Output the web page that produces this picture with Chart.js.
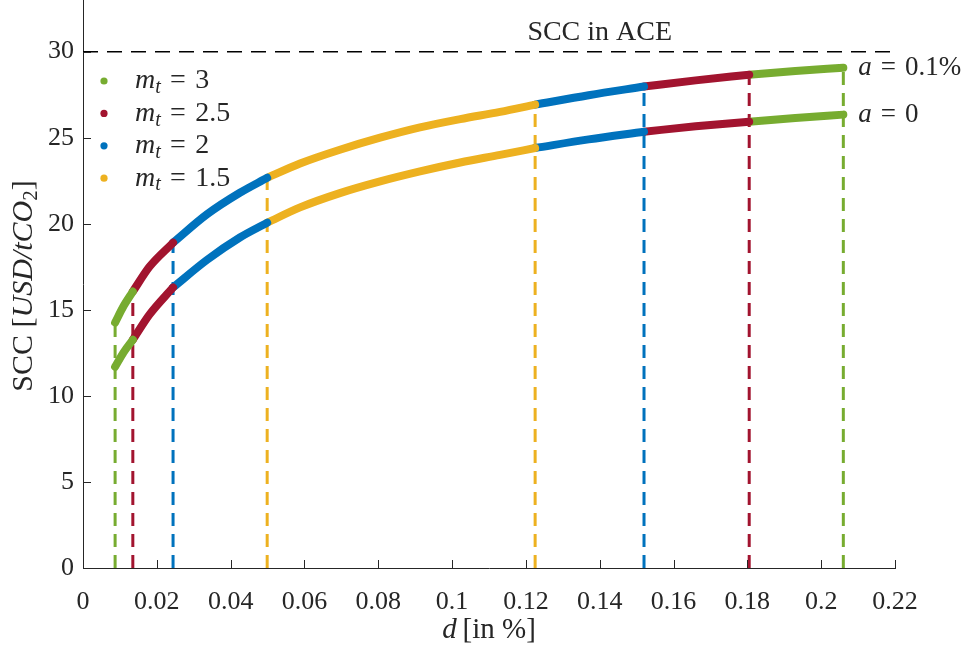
<!DOCTYPE html>
<html lang="en">
<head>
  <meta charset="utf-8">
  <title>SCC vs d</title>
  <script src="https://cdn.jsdelivr.net/npm/chart.js"></script>
  <style>
    html, body { margin: 0; padding: 0; background: #fff; }
    #wrap { width: 966px; height: 648px; }
  </style>
</head>
<body>
<div id="wrap"><canvas id="sccChart" width="966" height="648"></canvas></div>

<script>
  // d [in %], shared grid for both curves (breakpoints included)
  const dValues = [0.0087, 0.011, 0.0135, 0.018, 0.0244, 0.0336, 0.0425, 0.0499, 0.0588, 0.0696,
                   0.0805, 0.0913, 0.1022, 0.113, 0.1225, 0.137, 0.152, 0.166, 0.1805, 0.193, 0.206];
  // SCC for a = 0.1%
  const sccHigh = [14.26, 15.22, 16.06, 17.5, 18.9, 20.55, 21.8, 22.67, 23.5, 24.3,
                   25.0, 25.6, 26.08, 26.5, 26.92, 27.47, 27.97, 28.33, 28.66, 28.88, 29.07];
  // SCC for a = 0
  const sccLow = [11.69, 12.53, 13.26, 14.72, 16.3, 17.9, 19.2, 20.06, 20.95, 21.78,
                  22.46, 23.04, 23.56, 24.0, 24.4, 24.9, 25.35, 25.66, 25.93, 26.15, 26.34];

  // where m_t switches, and which m_t each piece belongs to
  const breakD = [0.0087, 0.0135, 0.0244, 0.0499, 0.1225, 0.152, 0.1805, 0.206];
  const segM = [3, 2.5, 2, 1.5, 2, 2.5, 3];
  const breakM = [3, 2.5, 2, 1.5, 1.5, 2, 2.5, 3];

  const mLevels = [3, 2.5, 2, 1.5];
  const mColors = ['#77AC30', '#A2142F', '#0072BD', '#EDB120'];
  const curveLabels = ['a = 0.1%', 'a = 0'];

  const sccAce = 30;
  const xTicks = [0, 0.02, 0.04, 0.06, 0.08, 0.1, 0.12, 0.14, 0.16, 0.18, 0.2, 0.22];
  const yTicks = [0, 5, 10, 15, 20, 25, 30];

  const FONT = '"Liberation Serif", "Times New Roman", serif';
  const INK = '#262626';
  const EQ = '\u2004=\u2004';

  function colorFor(m) {
    return mColors[mLevels.indexOf(m)];
  }

  function segment(values, lo, hi) {
    const pts = [];
    dValues.forEach((d, i) => {
      if (d >= lo - 1e-9 && d <= hi + 1e-9) pts.push({x: d, y: values[i]});
    });
    return pts;
  }

  const datasets = [];
  [sccHigh, sccLow].forEach(vals => {
    segM.forEach((m, k) => {
      datasets.push({
        data: segment(vals, breakD[k], breakD[k + 1]),
        borderColor: colorFor(m),
        borderWidth: 8,
        borderCapStyle: 'round',
        borderJoinStyle: 'round',
        cubicInterpolationMode: 'monotone',
        pointRadius: 0,
        showLine: true,
        order: 0
      });
    });
  });

  breakD.forEach((d, k) => {
    const top = sccHigh[dValues.indexOf(d)];
    datasets.push({
      data: [{x: d, y: 0}, {x: d, y: top}],
      borderColor: colorFor(breakM[k]),
      borderWidth: 3,
      borderDash: [13, 8],
      pointRadius: 0,
      showLine: true,
      order: 1
    });
  });

  // SCC in ACE reference line
  datasets.push({
    data: [{x: xTicks[0], y: sccAce}, {x: xTicks[xTicks.length - 1], y: sccAce}],
    borderColor: '#000',
    borderWidth: 1.5,
    borderDash: [15, 9],
    pointRadius: 0,
    showLine: true,
    order: 1
  });

  // text with italic / subscript pieces: [text, style]
  function partFont(style, size) {
    if (style === 'i') return 'italic ' + size + 'px ' + FONT;
    if (style === 'sub') return Math.round(size * 0.7) + 'px ' + FONT;
    if (style === 'subi') return 'italic ' + Math.round(size * 0.7) + 'px ' + FONT;
    return size + 'px ' + FONT;
  }
  function richWidth(ctx, parts, size) {
    let w = 0;
    parts.forEach(p => { ctx.font = partFont(p[1], size); w += ctx.measureText(p[0]).width; });
    return w;
  }
  function drawRich(ctx, parts, x, y, size, align) {
    let cx = x;
    if (align === 'center') cx = x - richWidth(ctx, parts, size) / 2;
    ctx.textAlign = 'left';
    ctx.textBaseline = 'middle';
    parts.forEach(p => {
      ctx.font = partFont(p[1], size);
      const dy = (p[1] === 'sub' || p[1] === 'subi') ? size * 0.25 : 0;
      ctx.fillText(p[0], cx, y + dy);
      cx += ctx.measureText(p[0]).width;
    });
  }

  const decorPlugin = {
    id: 'decor',
    afterDraw(chart) {
      const ctx = chart.ctx;
      const xs = chart.scales.x, ys = chart.scales.y;
      const area = chart.chartArea;
      ctx.save();

      // inward ticks
      ctx.strokeStyle = INK;
      ctx.lineWidth = 1;
      ctx.beginPath();
      xTicks.forEach(v => {
        const px = Math.round(xs.getPixelForValue(v)) + 0.5;
        ctx.moveTo(px, area.bottom);
        ctx.lineTo(px, area.bottom - 8);
      });
      yTicks.forEach(v => {
        const py = Math.round(ys.getPixelForValue(v)) + 0.5;
        ctx.moveTo(area.left, py);
        ctx.lineTo(area.left + 8, py);
      });
      ctx.stroke();

      ctx.fillStyle = INK;

      // axis titles
      drawRich(ctx, [['d', 'i'], ['\u2009[in %]', '']], (area.left + area.right) / 2, 630, 29, 'center');
      ctx.save();
      ctx.translate(24, (area.top + area.bottom) / 2 + 2);
      ctx.rotate(-Math.PI / 2);
      drawRich(ctx, [['SCC [', ''], ['USD/tCO', 'i'], ['2', 'sub'], [']', '']], 0, 0, 30, 'center');
      ctx.restore();

      // SCC in ACE label
      drawRich(ctx, [['SCC in ACE', '']], xs.getPixelForValue(0.14), ys.getPixelForValue(sccAce) - 19, 28, 'center');

      // curve end labels
      const last = dValues.length - 1;
      [sccHigh, sccLow].forEach((vals, i) => {
        const parts = curveLabels[i].split(' = ');
        drawRich(ctx, [[parts[0], 'i'], [EQ + parts[1], '']],
          xs.getPixelForValue(dValues[last]) + 15, ys.getPixelForValue(vals[last]), 27, 'left');
      });

      // legend
      mLevels.forEach((m, i) => {
        const y = area.top + 81 + i * 32.4;
        ctx.fillStyle = mColors[i];
        ctx.beginPath();
        ctx.arc(area.left + 21, y, 3.6, 0, Math.PI * 2);
        ctx.fill();
        ctx.fillStyle = INK;
        drawRich(ctx, [['m', 'i'], ['t', 'subi'], [EQ + m, '']], area.left + 52, y, 28, 'left');
      });

      ctx.restore();
    }
  };

  new Chart(document.getElementById('sccChart').getContext('2d'), {
    type: 'scatter',
    data: { datasets: datasets },
    options: {
      responsive: false,
      animation: false,
      devicePixelRatio: 1,
      layout: { padding: { left: 0, right: 71, top: 0, bottom: 0 } },
      plugins: { legend: { display: false }, tooltip: { enabled: false } },
      scales: {
        x: {
          type: 'linear',
          min: 0,
          max: 0.22,
          afterBuildTicks: s => { s.ticks = xTicks.map(v => ({value: v})); },
          afterFit: s => { s.height = 80; s.paddingLeft = 0; s.paddingRight = 0; },
          ticks: {
            padding: 19,
            color: INK,
            font: { family: FONT, size: 26 },
            callback: v => String(v)
          },
          grid: { drawOnChartArea: false, drawTicks: false },
          border: { color: INK, width: 1 }
        },
        y: {
          type: 'linear',
          min: 0,
          max: 33,
          afterBuildTicks: s => { s.ticks = yTicks.map(v => ({value: v})); },
          afterFit: s => { s.width = 83; s.paddingTop = 0; s.paddingBottom = 0; },
          ticks: {
            padding: 9,
            color: INK,
            font: { family: FONT, size: 26 },
            callback: v => String(v)
          },
          grid: { drawOnChartArea: false, drawTicks: false },
          border: { color: INK, width: 1 }
        }
      }
    },
    plugins: [decorPlugin]
  });
</script>
</body>
</html>
